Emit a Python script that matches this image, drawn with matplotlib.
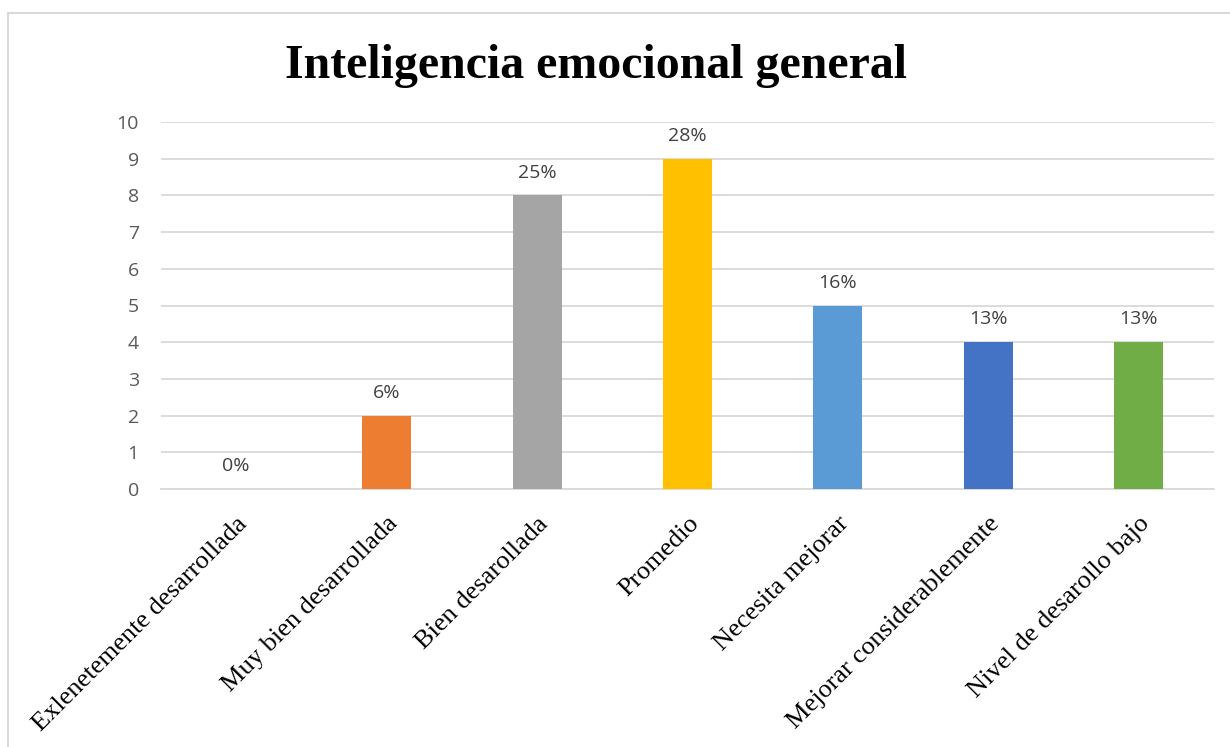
import matplotlib
matplotlib.use("Agg")
import matplotlib.pyplot as plt
from matplotlib.patches import Rectangle

categories = ["Exlenetemente desarrollada", "Muy bien desarrollada", "Bien desarollada",
              "Promedio", "Necesita mejorar", "Mejorar considerablemente",
              "Nivel de desarollo bajo"]
values = [0, 2, 8, 9, 5, 4, 4]
pct_labels = ["0%", "6%", "25%", "28%", "16%", "13%", "13%"]
colors = ["#5B9BD5", "#ED7D31", "#A5A5A5", "#FFC000", "#5B9BD5", "#4472C4", "#70AD47"]
yticks = list(range(0, 11))
title = "Inteligencia emocional general"

W, H = 1230, 747
fig = plt.figure(figsize=(W / 100, H / 100), dpi=100)
fig.patches.append(Rectangle((8 / W, -0.1), 1.2, (1 - 13 / H) + 0.1, transform=fig.transFigure,
                             fill=False, edgecolor="#d9d9d9", linewidth=1.5))

ax = fig.add_axes([161 / W, 1 - 489 / H, (1214 - 161) / W, (489 - 122) / H])
x = list(range(len(categories)))
bars = ax.bar(x, values, width=0.325, color=colors, zorder=3)
ax.set_xlim(-0.5, len(categories) - 0.5)
ax.set_ylim(0, 10)
ax.set_yticks(yticks)
ax.set_yticklabels([str(t) for t in yticks], fontfamily="Open Sans", fontsize=14, color="#595959")
ax.grid(axis="y", color="#d9d9d9", linewidth=1.3, zorder=0)
for s in ["top", "right", "left"]:
    ax.spines[s].set_visible(False)
ax.spines["bottom"].set_color("#d9d9d9")
ax.spines["bottom"].set_linewidth(1.3)
ax.tick_params(axis="both", length=0)
ax.tick_params(axis="y", pad=16)

ax.set_xticks(x)
ax.set_xticklabels(categories, rotation=45, ha="right", va="top", rotation_mode="anchor",
                   fontfamily="Liberation Serif", fontsize=19, color="#000000")
ax.tick_params(axis="x", pad=17)

for xi, v, lab in zip(x, values, pct_labels):
    ax.annotate(lab, (xi, v), xytext=(0, 10), textcoords="offset points", ha="center",
                va="bottom", fontfamily="Open Sans", fontsize=14, color="#404040")

fig.text(596 / W, 1 - 66 / H, title, ha="center", va="center", fontfamily="Liberation Serif",
         fontweight="bold", fontsize=34.5)

fig.savefig("out.png", dpi=100)
